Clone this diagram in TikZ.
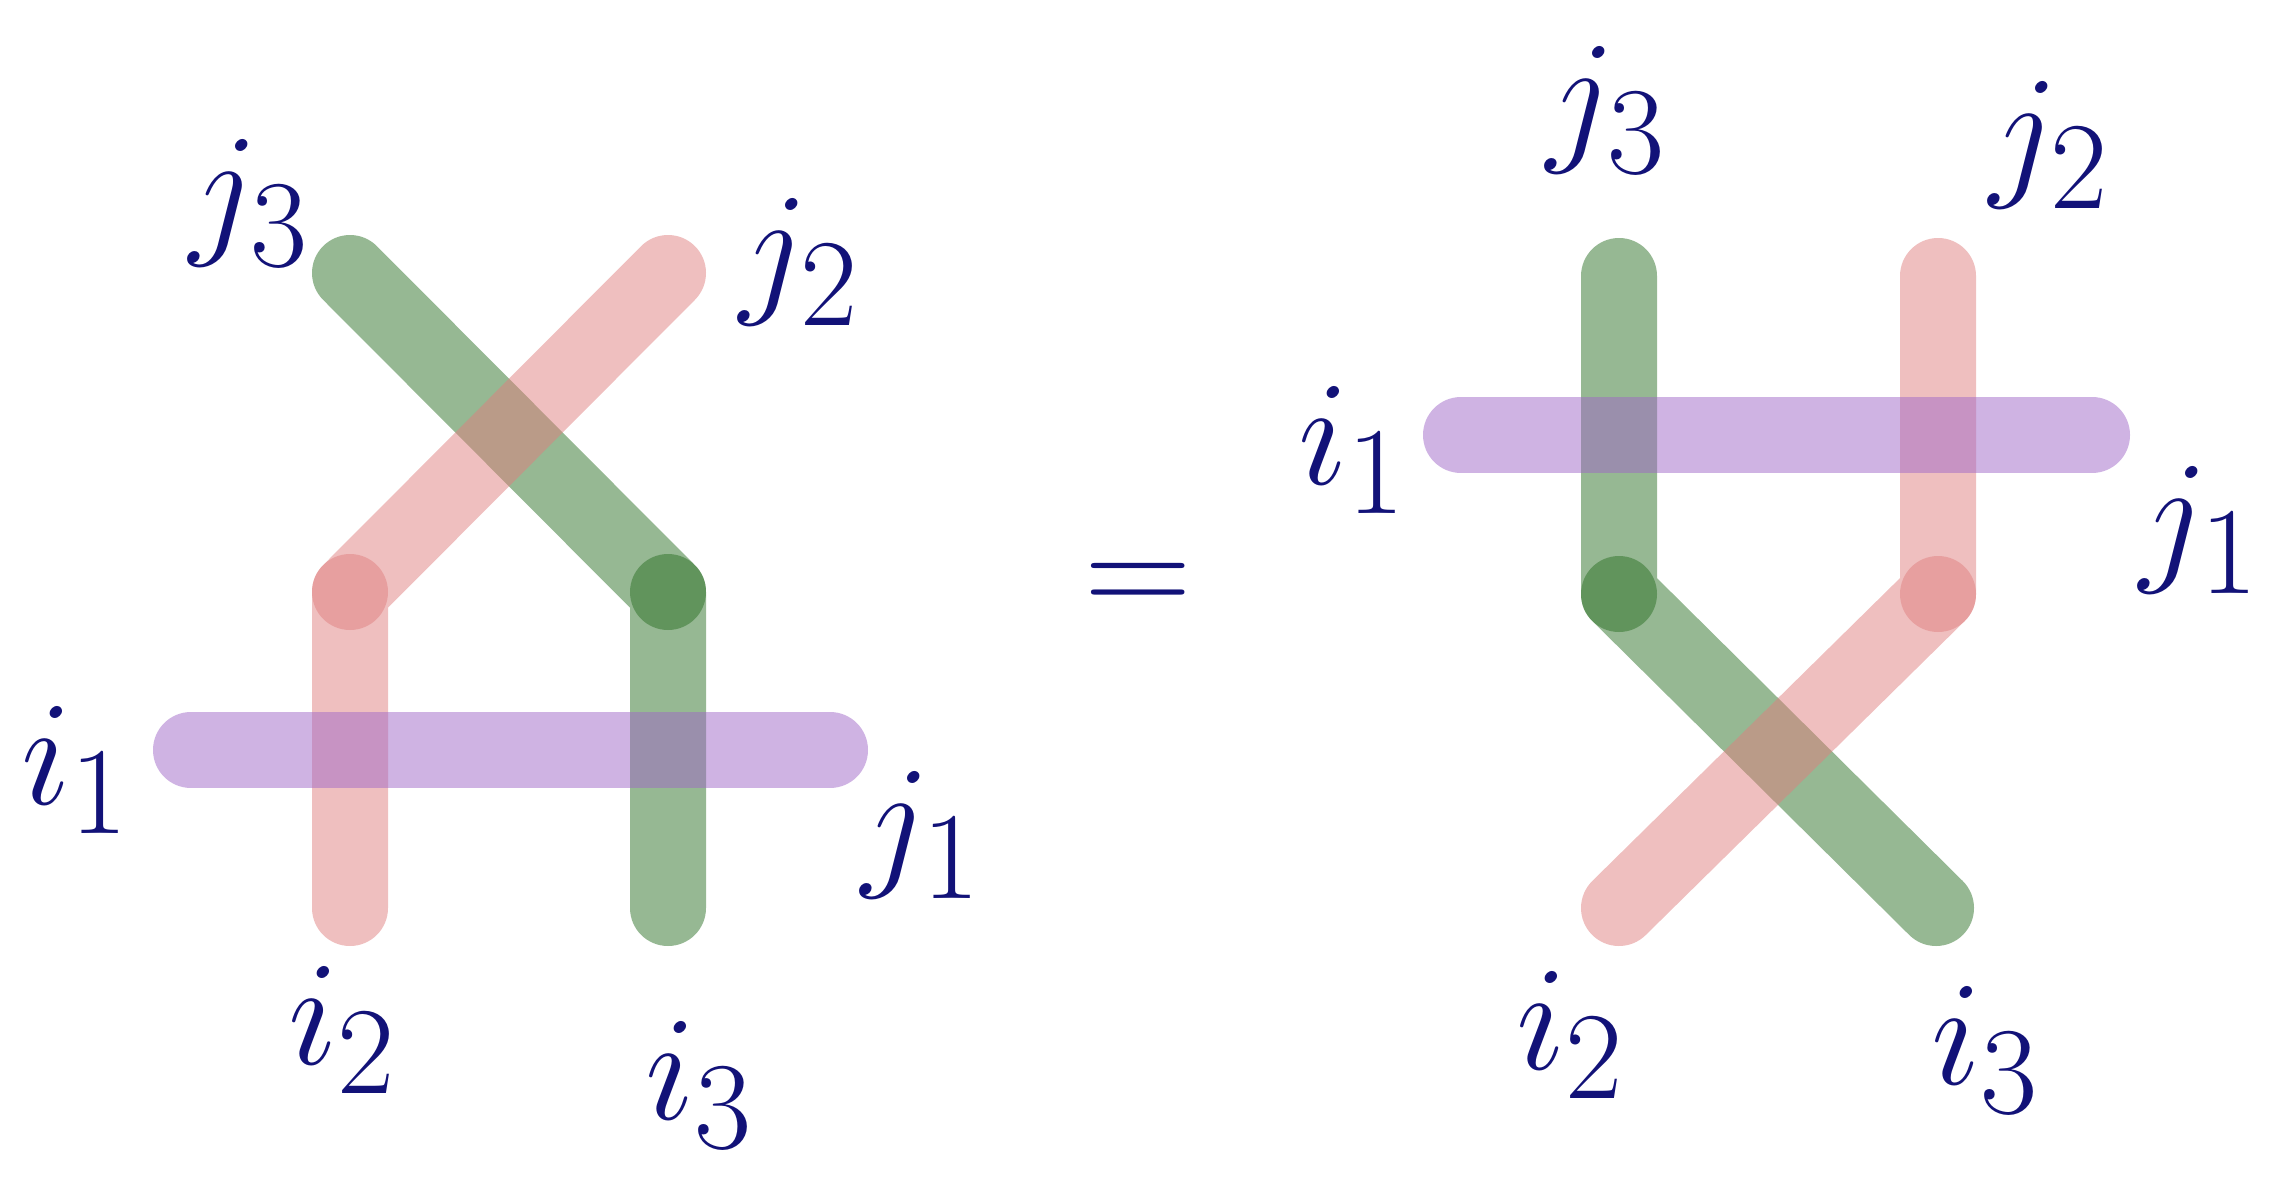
\documentclass[tikz,border=0pt]{standalone}
\usepackage{graphicx}
\usepackage{tikz}
\definecolor{gbase}{RGB}{45,113,39}
\definecolor{rbase}{RGB}{223,127,127}
\definecolor{pbase}{RGB}{159,103,199}
\definecolor{ink}{RGB}{18,18,120}
\newcommand{\biglab}[1]{\scalebox{6}{\Huge$#1$}}
\tikzset{
  band/.style={line width=76pt, line cap=round, line join=round, opacity=0.5},
  gband/.style={band, draw=gbase},
  rband/.style={band, draw=rbase},
  pband/.style={band, draw=pbase},
  gdot/.style={fill=gbase, opacity=0.5},
  rdot/.style={fill=rbase, opacity=0.5},
  lab/.style={text=ink, inner sep=0pt},
}
\begin{document}
\begin{tikzpicture}[x=1pt,y=-1pt]
\useasboundingbox (0,0) rectangle (2269,1177);
% ---------- left diagram ----------
\coordinate (LgT) at (350,273);
\coordinate (LgK) at (668,592);
\coordinate (LgB) at (668,908);
\coordinate (LrT) at (668,273);
\coordinate (LrK) at (350,592);
\coordinate (LrB) at (350,908);
\coordinate (LpL) at (191,750);
\coordinate (LpR) at (830,750);
\draw[gband] (LgT) -- (LgK) -- (LgB);
\draw[rband] (LrT) -- (LrK) -- (LrB);
\fill[gdot] (LgK) circle (38);
\fill[rdot] (LrK) circle (38);
\draw[pband] (LpL) -- (LpR);
\node[lab] (lj3) at (250,203) {\biglab{j_3}};
\node[lab] (lj2) at (800,262) {\biglab{j_2}};
\node[lab] (li1) at (76,770) {\biglab{i_1}};
\node[lab] (lj1) at (922,835) {\biglab{j_1}};
\node[lab] (li2) at (343,1030) {\biglab{i_2}};
\node[lab] (li3) at (700,1085) {\biglab{i_3}};
% ---------- equals ----------
\node[lab] (eq) at (1138,590) {\biglab{=}};
% ---------- right diagram ----------
\coordinate (RgT) at (1619,276);
\coordinate (RgK) at (1619,594);
\coordinate (RgB) at (1936,908);
\coordinate (RrT) at (1938,276);
\coordinate (RrK) at (1938,594);
\coordinate (RrB) at (1619,908);
\coordinate (RpL) at (1461,435);
\coordinate (RpR) at (2092,435);
\draw[gband] (RgT) -- (RgK) -- (RgB);
\draw[rband] (RrT) -- (RrK) -- (RrB);
\fill[gdot] (RgK) circle (38);
\fill[rdot] (RrK) circle (38);
\draw[pband] (RpL) -- (RpR);
\node[lab] (rj3) at (1607,110) {\biglab{j_3}};
\node[lab] (rj2) at (2050,145) {\biglab{j_2}};
\node[lab] (ri1) at (1353,450) {\biglab{i_1}};
\node[lab] (rj1) at (2200,530) {\biglab{j_1}};
\node[lab] (ri2) at (1571,1035) {\biglab{i_2}};
\node[lab] (ri3) at (1986,1050) {\biglab{i_3}};
\end{tikzpicture}
\end{document}
